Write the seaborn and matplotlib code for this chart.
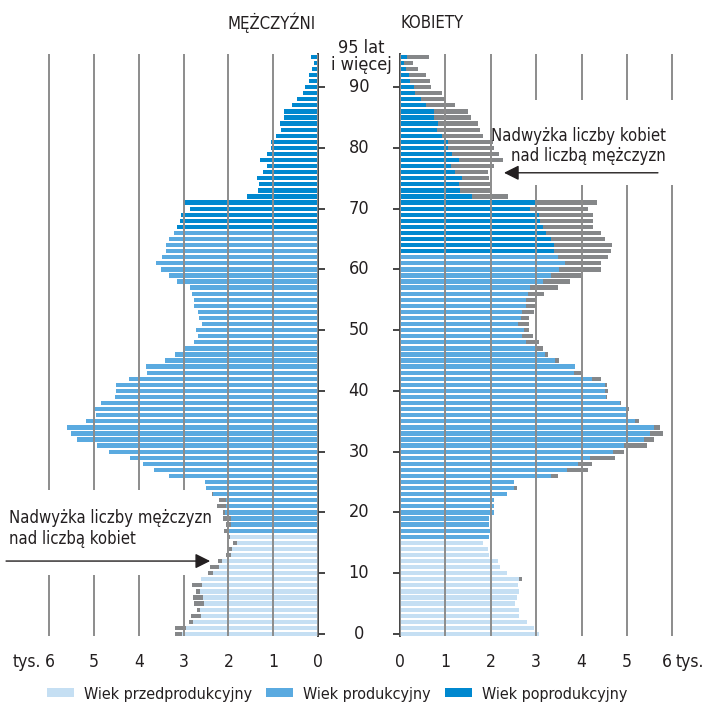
"""
Piramida wieku: mężczyźni i kobiety w tysiącach, z nadwyżką płci.
"""
import numpy as np
import pandas as pd
import matplotlib
matplotlib.use('Agg')
import matplotlib.pyplot as plt
import matplotlib.transforms as mtransforms
from matplotlib.patches import Patch, Rectangle
import seaborn as sns

# ---- data (thousands of people, age 0 .. 95+) ----
ages = list(range(96))

men = [3.20, 3.20, 2.88, 2.83, 2.70, 2.77, 2.79, 2.72, 2.82, 2.61,
       2.46, 2.41, 2.23, 2.05, 2.01, 1.90, 1.99, 2.10, 2.05, 2.12,
       2.12, 2.25, 2.21, 2.37, 2.50, 2.52, 3.33, 3.67, 3.92, 4.19,
       4.68, 4.93, 5.38, 5.51, 5.60, 5.18, 4.97, 5.00, 4.84, 4.53,
       4.52, 4.52, 4.23, 3.83, 3.85, 3.42, 3.20, 2.97, 2.77, 2.68,
       2.73, 2.59, 2.66, 2.68, 2.77, 2.77, 2.82, 2.86, 3.15, 3.33,
       3.51, 3.63, 3.49, 3.40, 3.40, 3.33, 3.22, 3.15, 3.09, 3.06,
       2.86, 3.02, 1.58, 1.33, 1.31, 1.36, 1.22, 1.13, 1.29, 1.15,
       1.06, 1.06, 0.93, 0.82, 0.84, 0.75, 0.75, 0.57, 0.46, 0.34,
       0.30, 0.21, 0.19, 0.14, 0.08, 0.16]

women = [3.05, 2.96, 2.79, 2.61, 2.63, 2.54, 2.57, 2.63, 2.59, 2.68,
         2.35, 2.21, 2.15, 1.95, 1.93, 1.82, 1.97, 1.99, 1.95, 1.95,
         2.08, 2.06, 2.06, 2.35, 2.57, 2.52, 3.49, 4.15, 4.22, 4.73,
         4.93, 5.43, 5.59, 5.79, 5.72, 5.26, 5.00, 5.04, 4.86, 4.55,
         4.57, 4.55, 4.42, 3.98, 3.85, 3.51, 3.25, 3.16, 3.05, 2.92,
         2.83, 2.85, 2.83, 2.94, 2.99, 2.99, 3.18, 3.49, 3.74, 3.98,
         4.42, 4.42, 4.57, 4.64, 4.66, 4.51, 4.42, 4.24, 4.26, 4.24,
         4.13, 4.33, 2.37, 1.99, 1.99, 1.97, 1.93, 2.08, 2.26, 2.19,
         2.08, 2.04, 1.82, 1.77, 1.71, 1.57, 1.49, 1.22, 0.99, 0.93,
         0.69, 0.65, 0.58, 0.40, 0.29, 0.64]

# first age of the working-age and post-working-age bars on each side
men_prod_from, men_post_from = 17, 67
women_prod_from, women_post_from = 16, 63

group_labels = ['Wiek przedprodukcyjny', 'Wiek produkcyjny', 'Wiek poprodukcyjny']
age_ticks = [0, 10, 20, 30, 40, 50, 60, 70, 80, 90]
x_ticks = [0, 1, 2, 3, 4, 5, 6]

# ---- styling ----
COLORS = {'pre': '#c5dff3', 'prod': '#5aaae0', 'post': '#0088cf'}
COL_EXCESS = '#858789'
COL_GRID = '#8c8c8c'
COL_SPINE = '#444444'
COL_TEXT = '#231f20'
XMAX = 6.1
FS = 12          # notes, headers
FS_LEGEND = 11.5
FS_TICK = 13     # age numbers
FS_XTICK = 12.5  # bottom scale

sns.set_style('white')
plt.rcParams['font.family'] = ['DejaVu Sans']
plt.rcParams['font.stretch'] = 'condensed'
plt.rcParams['text.color'] = COL_TEXT


def age_groups(prod_from, post_from):
    """Return the age-group key for every bar."""
    return ['pre' if a < prod_from else 'prod' if a < post_from else 'post'
            for a in ages]


def draw_side(ax, own, other, groups):
    """Gray bar for the surplus, coloured bar for the common part."""
    df = pd.DataFrame({
        'age': ages,
        'own': own,
        'common': np.minimum(own, other),
        'group': groups,
    })
    sns.barplot(data=df, x='own', y='age', orient='y', native_scale=True,
                color=COL_EXCESS, saturation=1, width=0.7, linewidth=0,
                errorbar=None, ax=ax)
    sns.barplot(data=df, x='common', y='age', hue='group', palette=COLORS,
                orient='y', native_scale=True, dodge=False, saturation=1,
                width=0.7, linewidth=0, errorbar=None, legend=False, ax=ax)
    ax.set_xlabel('')
    ax.set_ylabel('')
    ax.set_ylim(-0.4, 95.4)
    ax.set_xticks(x_ticks)
    ax.set_xticklabels([str(t) for t in x_ticks])
    ax.set_yticks(age_ticks)
    ax.grid(False)
    ax.grid(axis='x', color=COL_GRID, lw=1.4)
    ax.set_axisbelow(False)


fig = plt.figure(figsize=(7.04, 7.11), dpi=100)
W, H = 704, 711
ax_m = fig.add_axes([45 / W, (H - 636.4) / H, 273 / W, 582.1 / H])
ax_k = fig.add_axes([400 / W, (H - 636.4) / H, 277 / W, 582.1 / H])

draw_side(ax_m, men, women, age_groups(men_prod_from, men_post_from))
draw_side(ax_k, women, men, age_groups(women_prod_from, women_post_from))

# men: axis reversed, spine on the right
ax_m.set_xlim(XMAX, 0)
sns.despine(ax=ax_m, left=True, bottom=True, right=False, top=True)
ax_m.yaxis.set_ticks_position('right')
ax_m.spines['right'].set_color(COL_SPINE)
ax_m.spines['right'].set_linewidth(1.4)

ax_k.set_xlim(0, XMAX)
sns.despine(ax=ax_k, left=False, bottom=True, right=True, top=True)
ax_k.yaxis.set_ticks_position('left')
ax_k.spines['left'].set_color(COL_SPINE)
ax_k.spines['left'].set_linewidth(1.4)

for ax in (ax_m, ax_k):
    ax.tick_params(axis='x', length=0, pad=12, labelsize=FS_XTICK, labelcolor=COL_TEXT)
    ax.tick_params(axis='y', direction='out', length=5, width=1.4, color=COL_SPINE,
                   labelleft=False, labelright=False)

# the outer "6" on the women's side sits a little left of its grid line
last = ax_k.get_xticklabels()[-1]
last.set_transform(last.get_transform()
                   + mtransforms.ScaledTranslation(-6 / 100, 0, fig.dpi_scale_trans))

# "tys." next to the outer tick labels
ax_m.annotate('tys.', xy=(6, 0), xycoords=('data', 'axes fraction'),
              xytext=(-6, -12), textcoords='offset points', ha='right', va='top',
              fontsize=FS_XTICK, annotation_clip=False)
ax_k.annotate('tys.', xy=(6, 0), xycoords=('data', 'axes fraction'),
              xytext=(2.5, -12), textcoords='offset points', ha='left', va='top',
              fontsize=FS_XTICK, annotation_clip=False)

# age labels between the two halves
mid = mtransforms.blended_transform_factory(fig.transFigure, ax_m.transData)
for a in age_ticks:
    fig.text(359 / W, a, str(a), transform=mid, ha='center', va='center', fontsize=FS_TICK)
fig.text(361 / W, 95, '95 lat\ni więcej', transform=mid, ha='center', va='center',
         fontsize=FS_TICK, linespacing=0.95)

# headers
fig.text(316 / W, 1 - 23 / H, 'MĘŻCZYŹNI', ha='right', va='center', fontsize=FS)
fig.text(400 / W, 1 - 23 / H, 'KOBIETY', ha='left', va='center', fontsize=FS)

# white masks under the notes (they cut the grid lines)
ax_m.add_patch(Rectangle((2.6, 9.7), 3.6, 14.0, facecolor='white',
                         edgecolor='none', zorder=3))
ax_k.add_patch(Rectangle((2.32, 73.9), 3.9, 14.0, facecolor='white',
                         edgecolor='none', zorder=3))

arrow = dict(arrowstyle='-|>,head_length=0.6,head_width=0.3', color=COL_TEXT,
             lw=1.0, shrinkA=0, shrinkB=0, mutation_scale=15)
ax_m.text(6.9, 17.3, 'Nadwyżka liczby mężczyzn\nnad liczbą kobiet', ha='left',
          va='center', fontsize=FS, linespacing=1.2, zorder=4)
ax_m.annotate('', xy=(2.41, 12.0), xytext=(6.97, 12.0), arrowprops=arrow,
              annotation_clip=False, zorder=4)
ax_k.text(5.86, 80.3, 'Nadwyżka liczby kobiet\nnad liczbą mężczyzn', ha='right',
          va='center', fontsize=FS, linespacing=1.2, multialignment='right',
          zorder=4)
ax_k.annotate('', xy=(2.29, 75.9), xytext=(5.68, 75.9), arrowprops=arrow,
              annotation_clip=False, zorder=4)

# legend
handles = [Patch(facecolor=COLORS[k], edgecolor='none') for k in ('pre', 'prod', 'post')]
fig.legend(handles, group_labels, loc='center', bbox_to_anchor=(337 / W, 1 - 694 / H),
           ncol=3, frameon=False, fontsize=FS_LEGEND, handlelength=1.7, handleheight=0.5,
           handletextpad=0.6, columnspacing=0.9)

fig.savefig('out.png', dpi=100)
plt.close(fig)
